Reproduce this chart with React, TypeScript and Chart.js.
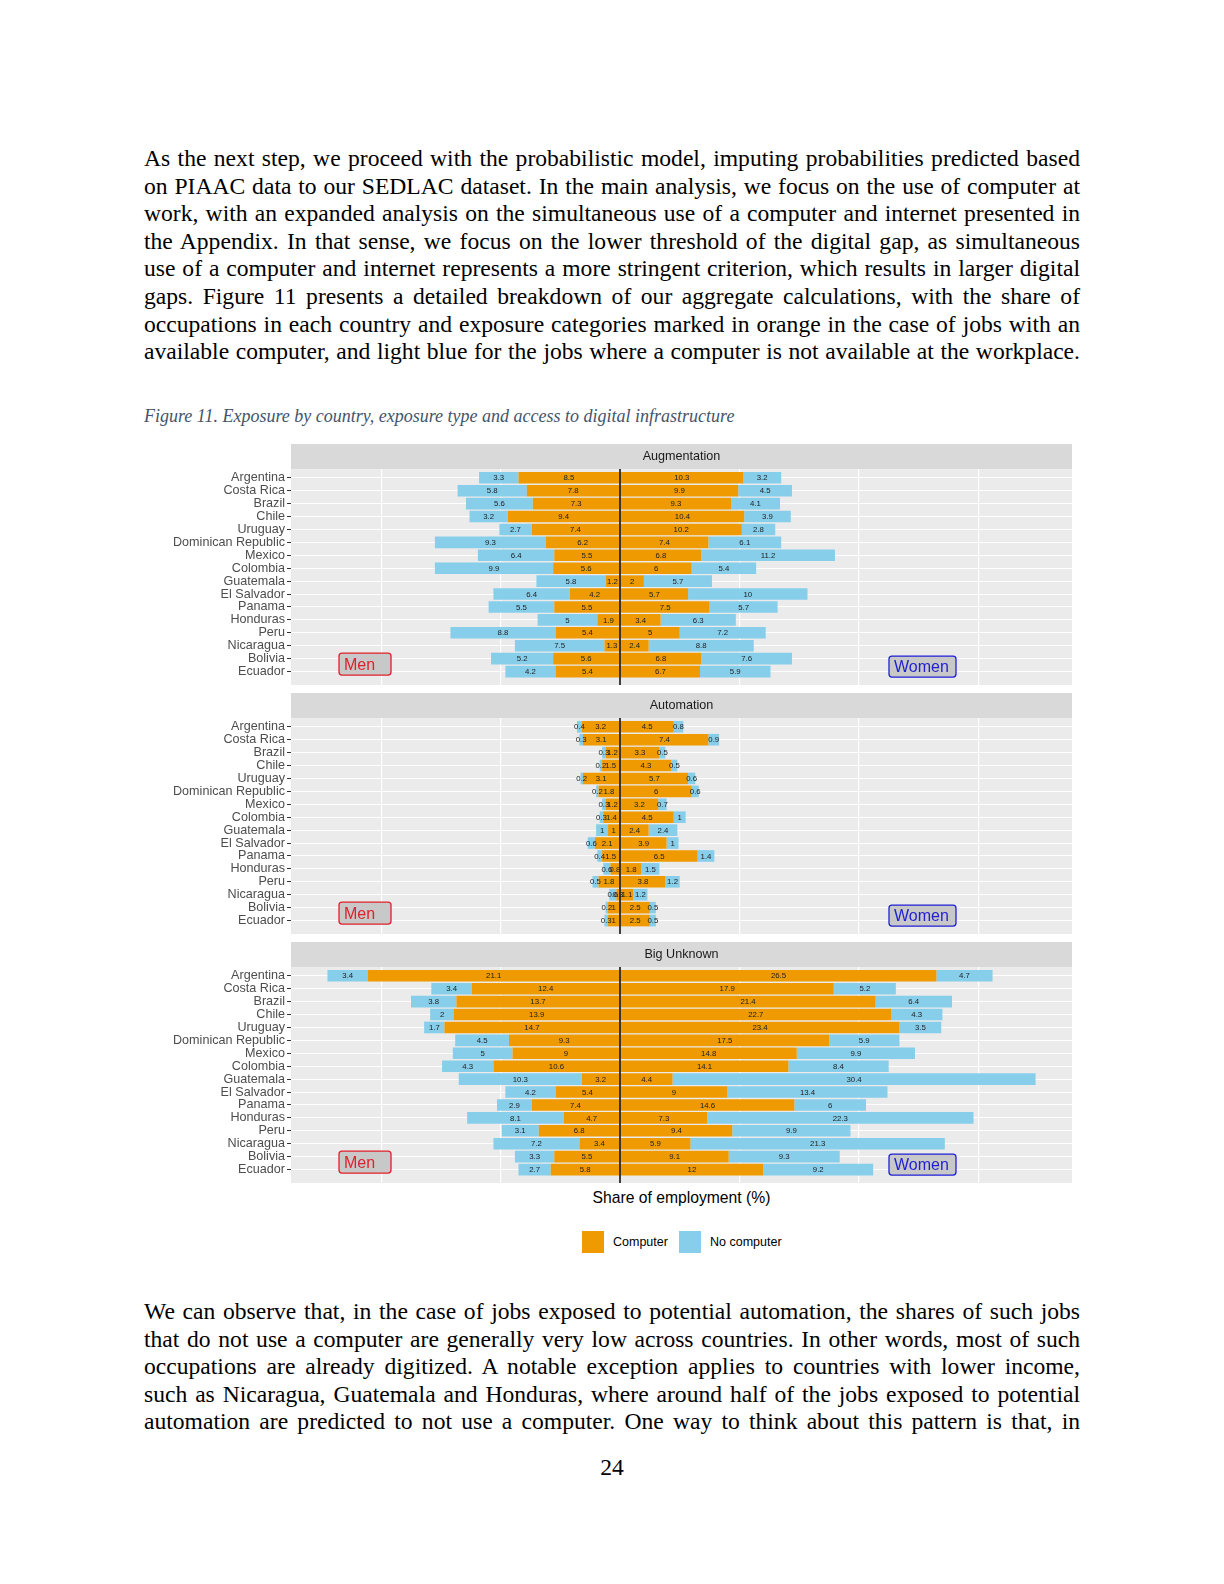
import React, { useEffect, useRef } from 'react';
import { Chart, registerables } from 'chart.js';

Chart.register(...registerables);
Chart.defaults.font.family = '"Liberation Sans", Arial, Helvetica, sans-serif';

// ---------------- DATA ----------------
const countries = [
  'Argentina', 'Costa Rica', 'Brazil', 'Chile', 'Uruguay', 'Dominican Republic', 'Mexico',
  'Colombia', 'Guatemala', 'El Salvador', 'Panama', 'Honduras', 'Peru', 'Nicaragua', 'Bolivia', 'Ecuador',
];

const augMenComputer = [8.5, 7.8, 7.3, 9.4, 7.4, 6.2, 5.5, 5.6, 1.2, 4.2, 5.5, 1.9, 5.4, 1.3, 5.6, 5.4];
const augMenNoComputer = [3.3, 5.8, 5.6, 3.2, 2.7, 9.3, 6.4, 9.9, 5.8, 6.4, 5.5, 5, 8.8, 7.5, 5.2, 4.2];
const augWomenComputer = [10.3, 9.9, 9.3, 10.4, 10.2, 7.4, 6.8, 6, 2, 5.7, 7.5, 3.4, 5, 2.4, 6.8, 6.7];
const augWomenNoComputer = [3.2, 4.5, 4.1, 3.9, 2.8, 6.1, 11.2, 5.4, 5.7, 10, 5.7, 6.3, 7.2, 8.8, 7.6, 5.9];

const autMenComputer = [3.2, 3.1, 1.2, 1.5, 3.1, 1.8, 1.2, 1.4, 1, 2.1, 1.5, 0.8, 1.8, 0.3, 1, 1];
const autMenNoComputer = [0.4, 0.3, 0.3, 0.2, 0.2, 0.2, 0.3, 0.3, 1, 0.6, 0.4, 0.6, 0.5, 0.6, 0.2, 0.3];
const autWomenComputer = [4.5, 7.4, 3.3, 4.3, 5.7, 6, 3.2, 4.5, 2.4, 3.9, 6.5, 1.8, 3.8, 1.1, 2.5, 2.5];
const autWomenNoComputer = [0.8, 0.9, 0.5, 0.5, 0.6, 0.6, 0.7, 1, 2.4, 1, 1.4, 1.5, 1.2, 1.2, 0.5, 0.5];

const bigMenComputer = [21.1, 12.4, 13.7, 13.9, 14.7, 9.3, 9, 10.6, 3.2, 5.4, 7.4, 4.7, 6.8, 3.4, 5.5, 5.8];
const bigMenNoComputer = [3.4, 3.4, 3.8, 2, 1.7, 4.5, 5, 4.3, 10.3, 4.2, 2.9, 8.1, 3.1, 7.2, 3.3, 2.7];
const bigWomenComputer = [26.5, 17.9, 21.4, 22.7, 23.4, 17.5, 14.8, 14.1, 4.4, 9, 14.6, 7.3, 9.4, 5.9, 9.1, 12];
const bigWomenNoComputer = [4.7, 5.2, 6.4, 4.3, 3.5, 5.9, 9.9, 8.4, 30.4, 13.4, 6, 22.3, 9.9, 21.3, 9.3, 9.2];

const xGridTicks = [-20, -10, 0, 10, 20, 30];

const para1Lines = [
  'As the next step, we proceed with the probabilistic model, imputing probabilities predicted based',
  'on PIAAC data to our SEDLAC dataset. In the main analysis, we focus on the use of computer at',
  'work, with an expanded analysis on the simultaneous use of a computer and internet presented in',
  'the Appendix. In that sense, we focus on the lower threshold of the digital gap, as simultaneous',
  'use of a computer and internet represents a more stringent criterion, which results in larger digital',
  'gaps. Figure 11 presents a detailed breakdown of our aggregate calculations, with the share of',
  'occupations in each country and exposure categories marked in orange in the case of jobs with an',
  'available computer, and light blue for the jobs where a computer is not available at the workplace.',
];
const para2Lines = [
  'We can observe that, in the case of jobs exposed to potential automation, the shares of such jobs',
  'that do not use a computer are generally very low across countries. In other words, most of such',
  'occupations are already digitized. A notable exception applies to countries with lower income,',
  'such as Nicaragua, Guatemala and Honduras, where around half of the jobs exposed to potential',
  'automation are predicted to not use a computer. One way to think about this pattern is that, in',
];

// ---------------- STYLE ----------------
const ORANGE = '#EE9A00';
const BLUE = '#87CEEB';
const X_MIN = -27.55;
const X_MAX = 37.85;
const Y_MIN = -0.67;
const Y_MAX = 16.04;

function drawTag(ctx: CanvasRenderingContext2D, x: number, y: number, w: number, h: number, text: string, color: string) {
  ctx.beginPath();
  (ctx as any).roundRect(x, y, w, h, 3);
  ctx.fillStyle = '#C8C8C8';
  ctx.fill();
  ctx.lineWidth = 1.3;
  ctx.strokeStyle = color;
  ctx.stroke();
  ctx.fillStyle = color;
  ctx.font = '16px "Liberation Sans", Arial, sans-serif';
  ctx.textAlign = 'left';
  ctx.textBaseline = 'middle';
  ctx.fillText(text, x + 5, y + h / 2 + 1);
}

const panelPlugin = {
  id: 'panelDeco',
  beforeDraw(chart: any) {
    const { ctx, chartArea: a } = chart;
    ctx.save();
    ctx.fillStyle = '#D9D9D9';
    ctx.fillRect(a.left, 0, a.right - a.left, a.top);
    ctx.fillStyle = '#EBEBEB';
    ctx.fillRect(a.left, a.top, a.right - a.left, a.bottom - a.top);
    ctx.restore();
  },
  afterDatasetsDraw(chart: any) {
    const { ctx, chartArea: a, scales } = chart;
    const x0 = scales.x.getPixelForValue(0);
    ctx.save();
    ctx.strokeStyle = '#000000';
    ctx.lineWidth = 1.5;
    ctx.beginPath();
    ctx.moveTo(x0, a.top);
    ctx.lineTo(x0, a.bottom);
    ctx.stroke();
    ctx.font = '7.8px "Liberation Sans", Arial, sans-serif';
    ctx.fillStyle = '#222222';
    ctx.textAlign = 'center';
    ctx.textBaseline = 'middle';
    chart.data.datasets.forEach((ds: any, i: number) => {
      const meta = chart.getDatasetMeta(i);
      meta.data.forEach((el: any, j: number) => {
        const p = el.getProps(['x', 'base', 'y'], true);
        const v = Math.abs(ds.data[j].x);
        ctx.fillText(String(v), (p.x + p.base) / 2, p.y + 0.5);
      });
    });
    ctx.restore();
  },
  afterDraw(chart: any) {
    const { ctx, chartArea: a } = chart;
    ctx.save();
    drawTag(ctx, a.left + 48, a.top + 184, 52, 22, 'Men', '#E0202A');
    drawTag(ctx, a.left + 598, a.top + 187, 67, 21, 'Women', '#1F1FD6');
    ctx.restore();
  },
};

type PanelProps = {
  title: string;
  menC: number[];
  menN: number[];
  womenC: number[];
  womenN: number[];
  top: number;
};

function Panel({ title, menC, menN, womenC, womenN, top }: PanelProps) {
  const ref = useRef<HTMLCanvasElement>(null);
  useEffect(() => {
    const pts = (arr: number[], sign: number) => arr.map((v, i) => ({ x: sign * v, y: i }));
    const chart = new Chart(ref.current as HTMLCanvasElement, {
      type: 'bar',
      data: {
        datasets: [
          { label: 'Men computer', data: pts(menC, -1), backgroundColor: ORANGE, stack: 's' },
          { label: 'Men no computer', data: pts(menN, -1), backgroundColor: BLUE, stack: 's' },
          { label: 'Women computer', data: pts(womenC, 1), backgroundColor: ORANGE, stack: 's' },
          { label: 'Women no computer', data: pts(womenN, 1), backgroundColor: BLUE, stack: 's' },
        ] as any,
      },
      options: {
        indexAxis: 'y',
        animation: false,
        responsive: false,
        maintainAspectRatio: false,
        devicePixelRatio: 1,
        layout: { padding: 0 },
        datasets: { bar: { barPercentage: 0.9, categoryPercentage: 1, borderWidth: 0 } } as any,
        scales: {
          x: {
            type: 'linear',
            stacked: true,
            offset: false,
            min: X_MIN,
            max: X_MAX,
            afterBuildTicks: (s: any) => {
              s.ticks = xGridTicks.map((v) => ({ value: v }));
            },
            ticks: { display: false },
            grid: { color: '#FFFFFF', lineWidth: 1.2, drawTicks: false, offset: false },
            border: { display: false },
          },
          y: {
            type: 'linear',
            stacked: true,
            reverse: true,
            offset: false,
            min: Y_MIN,
            max: Y_MAX,
            afterBuildTicks: (s: any) => {
              s.ticks = countries.map((_, i) => ({ value: i }));
            },
            afterFit: (s: any) => {
              s.width = 147;
              s.paddingTop = 0;
              s.paddingBottom = 0;
            },
            ticks: {
              autoSkip: false,
              callback: (v: any) => countries[Math.round(Number(v))] ?? '',
              font: { size: 12.6, lineHeight: 1 },
              color: '#4D4D4D',
              padding: 2,
            },
            grid: { color: '#FFFFFF', lineWidth: 1, tickColor: '#333333', tickLength: 4, tickWidth: 1, offset: false },
            border: { display: false },
          },
        } as any,
        plugins: {
          legend: { display: false },
          tooltip: { enabled: false },
          title: {
            display: true,
            text: title,
            fullSize: false,
            font: { size: 12.6, weight: 'normal' },
            color: '#1A1A1A',
            padding: { top: 5, bottom: 5 },
          },
        } as any,
      },
      plugins: [panelPlugin],
    });
    return () => chart.destroy();
  }, []);
  return (
    <canvas
      ref={ref}
      width={928}
      height={241}
      style={{ position: 'absolute', left: 144, top, width: 928, height: 241, display: 'block' }}
    />
  );
}

const lineStyle = (top: number): React.CSSProperties => ({
  position: 'absolute',
  left: 144,
  top,
  width: 936,
  fontSize: 23.6,
  lineHeight: '27.6px',
  textAlign: 'justify',
  textAlignLast: 'justify' as any,
});

export default function App() {
  return (
    <div
      style={{
        position: 'absolute',
        left: 0,
        top: 0,
        width: 1224,
        height: 1584,
        background: '#FFFFFF',
        fontFamily: '"Liberation Serif", "Times New Roman", serif',
        color: '#000',
        overflow: 'hidden',
      }}
    >
      {para1Lines.map((l, i) => (
        <div key={'p1' + i} style={lineStyle(145 + i * 27.6)}>{l}</div>
      ))}
      <div
        style={{
          position: 'absolute',
          left: 144,
          top: 406,
          fontSize: 18,
          lineHeight: '20px',
          fontStyle: 'italic',
          color: '#44546A',
          whiteSpace: 'nowrap',
        }}
      >
        Figure 11. Exposure by country, exposure type and access to digital infrastructure
      </div>

      <Panel title="Augmentation" menC={augMenComputer} menN={augMenNoComputer} womenC={augWomenComputer} womenN={augWomenNoComputer} top={444} />
      <Panel title="Automation" menC={autMenComputer} menN={autMenNoComputer} womenC={autWomenComputer} womenN={autWomenNoComputer} top={693} />
      <Panel title="Big Unknown" menC={bigMenComputer} menN={bigMenNoComputer} womenC={bigWomenComputer} womenN={bigWomenNoComputer} top={942} />

      <div
        style={{
          position: 'absolute',
          left: 291,
          width: 781,
          top: 1189,
          textAlign: 'center',
          fontFamily: '"Liberation Sans", Arial, sans-serif',
          fontSize: 15.7,
          lineHeight: '18px',
          color: '#000',
        }}
      >
        Share of employment (%)
      </div>

      <div style={{ position: 'absolute', left: 582, top: 1231, width: 22, height: 22, background: ORANGE }} />
      <div
        style={{
          position: 'absolute', left: 613, top: 1234, fontFamily: '"Liberation Sans", Arial, sans-serif',
          fontSize: 12.5, lineHeight: '16px', color: '#000', whiteSpace: 'nowrap',
        }}
      >
        Computer
      </div>
      <div style={{ position: 'absolute', left: 679, top: 1231, width: 22, height: 22, background: BLUE }} />
      <div
        style={{
          position: 'absolute', left: 710, top: 1234, fontFamily: '"Liberation Sans", Arial, sans-serif',
          fontSize: 12.5, lineHeight: '16px', color: '#000', whiteSpace: 'nowrap',
        }}
      >
        No computer
      </div>

      {para2Lines.map((l, i) => (
        <div key={'p2' + i} style={lineStyle(1298 + i * 27.6)}>{l}</div>
      ))}

      <div
        style={{
          position: 'absolute', left: 0, width: 1224, top: 1454, textAlign: 'center',
          fontSize: 23.6, lineHeight: '27.6px',
        }}
      >
        24
      </div>
    </div>
  );
}
